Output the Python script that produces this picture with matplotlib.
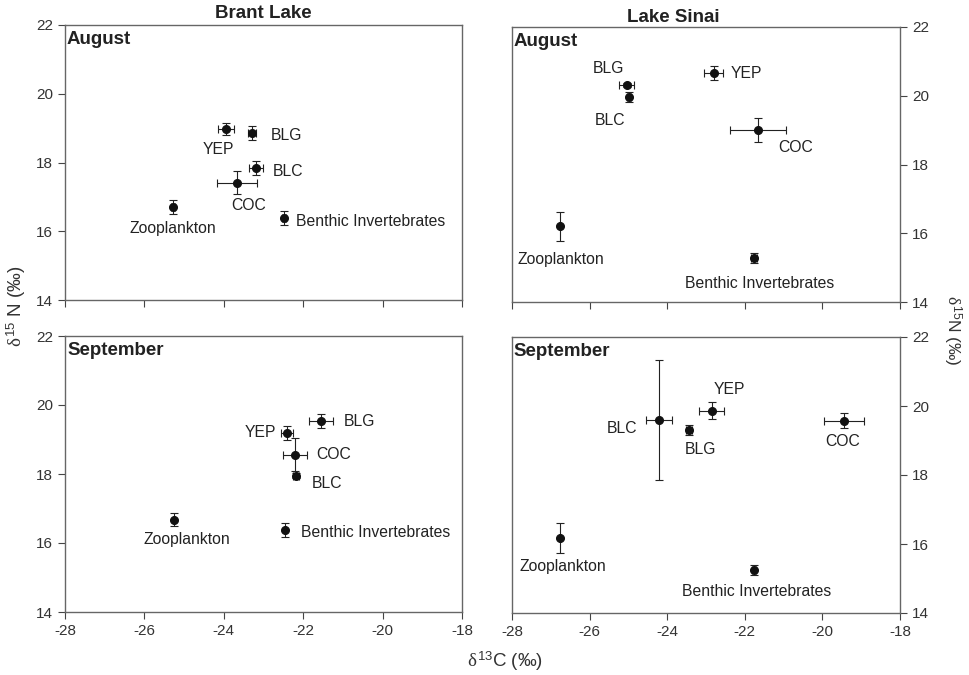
import matplotlib
matplotlib.use("Agg")
import matplotlib.pyplot as plt

plt.rcParams['font.family'] = ['Liberation Sans', 'DejaVu Sans']
plt.rcParams['mathtext.fontset'] = 'custom'
plt.rcParams['mathtext.rm'] = 'Liberation Serif'
plt.rcParams['mathtext.it'] = 'Liberation Serif'
plt.rcParams['mathtext.sf'] = 'Liberation Sans'
plt.rcParams['axes.unicode_minus'] = False

groups = ["Zooplankton", "Benthic Invertebrates", "YEP", "BLG", "BLC", "COC"]

# Brant Lake, August
brant_aug_c = [-25.28, -22.48, -23.94, -23.29, -23.19, -23.67]
brant_aug_n = [16.71, 16.38, 18.98, 18.86, 17.84, 17.41]
brant_aug_cerr = [0.05, 0.05, 0.20, 0.10, 0.17, 0.50]
brant_aug_nerr = [0.20, 0.20, 0.17, 0.20, 0.20, 0.33]

# Brant Lake, September
brant_sep_c = [-25.25, -22.46, -22.41, -21.55, -22.18, -22.20]
brant_sep_n = [16.68, 16.37, 19.20, 19.54, 17.95, 18.56]
brant_sep_cerr = [0.03, 0.03, 0.15, 0.30, 0.08, 0.30]
brant_sep_nerr = [0.20, 0.20, 0.20, 0.20, 0.08, 0.47]

# Lake Sinai, August
sinai_aug_c = [-26.76, -21.76, -22.80, -25.04, -24.98, -21.66]
sinai_aug_n = [16.20, 15.28, 20.66, 20.32, 19.96, 19.00]
sinai_aug_cerr = [0.03, 0.08, 0.24, 0.19, 0.05, 0.72]
sinai_aug_nerr = [0.42, 0.15, 0.20, 0.06, 0.15, 0.35]

# Lake Sinai, September
sinai_sep_c = [-26.76, -21.76, -22.85, -23.44, -24.21, -19.44]
sinai_sep_n = [16.17, 15.25, 19.86, 19.30, 19.59, 19.57]
sinai_sep_cerr = [0.03, 0.05, 0.32, 0.08, 0.34, 0.52]
sinai_sep_nerr = [0.43, 0.15, 0.25, 0.15, 1.74, 0.22]

xticks = [-28, -26, -24, -22, -20, -18]
yticks = [14, 16, 18, 20, 22]

# label offsets in pixels (dx, dy) and horizontal alignment
lab_brant_aug = [(0, -22, 'center'), (12, -3, 'left'), (-8, -21, 'center'),
                 (19, -3, 'left'), (17, -3, 'left'), (12, -23, 'center')]
lab_brant_sep = [(13, -20, 'center'), (16, -2, 'left'), (-11, 0, 'right'),
                 (23, -1, 'left'), (16, -8, 'left'), (21, 0, 'left')]
lab_sinai_aug = [(1, -33, 'center'), (6, -25, 'center'), (17, 0, 'left'),
                 (-18, 16, 'center'), (-19, -23, 'center'), (38, -17, 'center')]
lab_sinai_sep = [(3, -28, 'center'), (3, -22, 'center'), (18, 21, 'center'),
                 (12, -19, 'center'), (-22, -8, 'right'), (-2, -21, 'center')]

fig = plt.figure(figsize=(9.7, 6.75), dpi=100)
W, H = 970.0, 675.0


def make_ax(x0, x1, y0, y1):
    return fig.add_axes([x0 / W, 1 - y1 / H, (x1 - x0) / W, (y1 - y0) / H])


ax_ba = make_ax(65, 462, 25, 300)
ax_bs = make_ax(65, 462, 336, 612)
ax_sa = make_ax(512, 900, 27, 302)
ax_ss = make_ax(512, 900, 337, 613)

panels = [
    (ax_ba, brant_aug_c, brant_aug_n, brant_aug_cerr, brant_aug_nerr, lab_brant_aug, "August", "left", False),
    (ax_bs, brant_sep_c, brant_sep_n, brant_sep_cerr, brant_sep_nerr, lab_brant_sep, "September", "left", True),
    (ax_sa, sinai_aug_c, sinai_aug_n, sinai_aug_cerr, sinai_aug_nerr, lab_sinai_aug, "August", "right", False),
    (ax_ss, sinai_sep_c, sinai_sep_n, sinai_sep_cerr, sinai_sep_nerr, lab_sinai_sep, "September", "right", True),
]

for ax, c, n, cerr, nerr, labs, month, side, show_x in panels:
    ax.errorbar(c, n, xerr=cerr, yerr=nerr, fmt='o', color='#111111', ms=5.5,
                ecolor='#222222', elinewidth=0.8, capsize=3, capthick=0.8)
    for i, g in enumerate(groups):
        dx, dy, ha = labs[i]
        ax.annotate(g, (c[i], n[i]), xytext=(dx, dy), textcoords='offset pixels',
                    ha=ha, va='center', fontsize=11.3, color='#222222')
    ax.set_xlim(-28, -18)
    ax.set_ylim(14, 22)
    ax.set_xticks(xticks)
    ax.set_yticks(yticks)
    ax.text(0.005, 0.98, month, transform=ax.transAxes, fontsize=13.5,
            fontweight='bold', ha='left', va='top', color='#222222')
    for sp in ax.spines.values():
        sp.set_color('#666666')
        sp.set_linewidth(1)
    ax.tick_params(direction='out', length=5, width=0.8, color='#444444',
                   labelsize=11, labelcolor='#333333')
    if side == 'right':
        ax.yaxis.tick_right()
    if not show_x:
        ax.tick_params(axis='x', labelbottom=False)

ax_ba.text(0.5, 1.01, "Brant Lake", transform=ax_ba.transAxes, fontsize=13.5,
           fontweight='bold', ha='center', va='bottom', color='#222222')
ax_sa.text(0.415, 1.005, "Lake Sinai", transform=ax_sa.transAxes, fontsize=13.5,
           fontweight='bold', ha='center', va='bottom', color='#222222')

fig.text(16 / W, 1 - 306 / H, r'$\delta^{\mathsf{15}}$ N (‰)', rotation=90, ha='center',
         va='center', fontsize=13.5, color='#333333')
fig.text(952 / W, 1 - 330 / H, r'$\delta^{\mathsf{15}}$N (‰)', rotation=270, ha='center',
         va='center', fontsize=12.5, color='#333333')
fig.text(505 / W, 1 - 661 / H, r'$\delta^{\mathsf{13}}$C (‰)', ha='center',
         va='center', fontsize=13.5, color='#333333')

fig.savefig("out.png", dpi=100)
